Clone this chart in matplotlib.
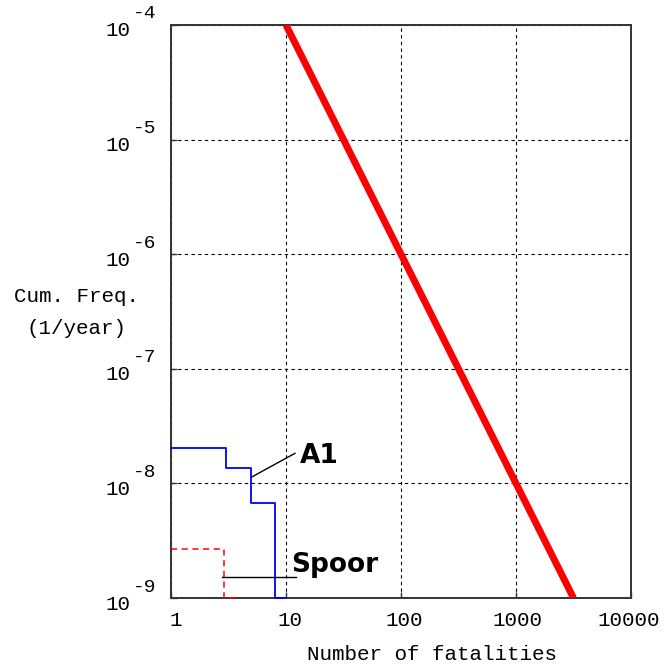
import matplotlib
matplotlib.use("Agg")
import matplotlib.pyplot as plt
import matplotlib.transforms as mtransforms
import numpy as np

# ---- data ----
criterion_x = [10, 3162]
criterion_y = [1e-4, 1e-9]

a1_x = [1, 3, 5, 8, 10]
a1_y = [2.05e-8, 1.35e-8, 6.7e-9, 1e-9, 1e-9]

spoor_x = [1, 2.9, 3.8]
spoor_y = [2.7e-9, 1e-9, 1e-9]

xticks = [1, 10, 100, 1000, 10000]
xtick_labels = ["1", "10", "100", "1000", "10000"]
yticks = [1e-9, 1e-8, 1e-7, 1e-6, 1e-5, 1e-4]
ytick_exps = ["-9", "-8", "-7", "-6", "-5", "-4"]

mono = "Liberation Mono"

fig = plt.figure(figsize=(6.64, 6.66), dpi=100)
ax = fig.add_axes([171/664, 1-598/666, 460/664, 573/666])
ax.set_xscale("log")
ax.set_yscale("log")
ax.set_xlim(1, 10000)
ax.set_ylim(1e-9, 1e-4)

ax.plot(criterion_x, criterion_y, color="#ff0000", lw=5, solid_capstyle="butt", zorder=3)
ax.plot(a1_x, a1_y, color="#0000ff", lw=1.3, drawstyle="steps-post", zorder=4, clip_on=False)
ax.plot(spoor_x, spoor_y, color="#ff0000", lw=1.1, ls=(0, (4, 3)), drawstyle="steps-post", zorder=4, clip_on=False)

ax.grid(True, which="major", color="black", ls=(0, (3, 3)), lw=0.8)
ax.minorticks_off()
ax.set_xticks(xticks)
ax.set_xticklabels(xtick_labels, fontfamily=mono, fontsize=15)
ax.set_yticks(yticks)
ax.set_yticklabels([""] * len(yticks))
ax.tick_params(direction="in", length=4, width=1, color="#333333", pad=9)
ax.tick_params(axis="y", which="both", left=True, right=False)
ax.tick_params(axis="x", which="both", bottom=True, top=False)
for s in ax.spines.values():
    s.set_color("#333333")
    s.set_linewidth(1.4)

for lbl, dx in zip(ax.get_xticklabels(), [5, 4, 3, 1, -2]):
    off = mtransforms.ScaledTranslation(dx/100, 0, fig.dpi_scale_trans)
    lbl.set_transform(lbl.get_transform() + off)

for v, e in zip(yticks, ytick_exps):
    ax.annotate("10", xy=(0, v), xycoords=("axes fraction", "data"),
                xytext=(-41, -6), textcoords="offset pixels",
                ha="right", va="center", fontfamily=mono, fontsize=15)
    ax.annotate(e, xy=(0, v), xycoords=("axes fraction", "data"),
                xytext=(-38, 11), textcoords="offset pixels",
                ha="left", va="center", fontfamily=mono, fontsize=14)

fig.text(77/664, 1-297/666, "Cum. Freq.", ha="center", va="center", fontfamily=mono, fontsize=15)
fig.text(77/664, 1-328/666, "(1/year)", ha="center", va="center", fontfamily=mono, fontsize=15)
fig.text(432/664, 1-655/666, "Number of fatalities", ha="center", va="center", fontfamily=mono, fontsize=15)

# annotations
ax.plot([5.06, 11.97], [1.14e-8, 1.83e-8], color="black", lw=1.0, zorder=5)
ax.text(13.2, 1.51e-8, "A1", fontsize=19, fontweight="bold", family="DejaVu Sans", va="baseline", ha="left")
ax.plot([2.78, 12.2], [1.52e-9, 1.52e-9], color="black", lw=1.0, zorder=5, clip_on=False)
ax.text(11.05, 1.69e-9, "Spoor", fontsize=19, fontweight="bold", family="DejaVu Sans", va="baseline", ha="left")

fig.savefig("out.png", dpi=100)
